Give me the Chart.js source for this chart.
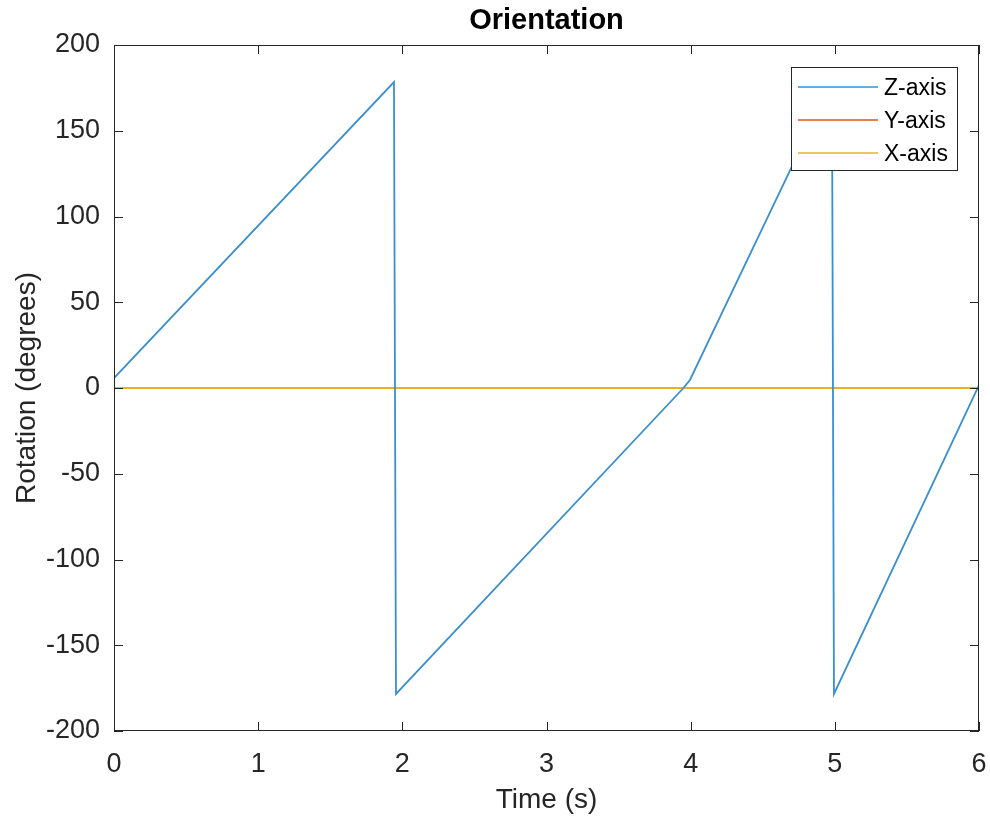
<!DOCTYPE html>
<html>
<head>
<meta charset="utf-8">
<script src="https://cdn.jsdelivr.net/npm/chart.js@4/dist/chart.umd.min.js"></script>
<style>
  html, body { margin: 0; padding: 0; background: #fff; }
  #wrap { width: 990px; height: 817px; }
</style>
</head>
<body>
<div id="wrap"><canvas id="orient"></canvas></div>
<script>
// values
const timeS = [0, 1.942, 1.956, 3.95, 3.995, 4.98, 4.994, 6]
const zAxis = [5.8, 178.4, -178.4, 0, 4.7, 178, -178.4, 1.7]
const yAxis = [0, 0, 0, 0, 0, 0, 0, 0]
const xAxis = [0, 0, 0, 0, 0, 0, 0, 0]
const seriesNames = ['Z-axis', 'Y-axis', 'X-axis']
const seriesColors = ['#3a8fd0', '#D95319', '#EDB120']
const chartTitle = 'Orientation'

const axisColor = '#262626'
const fontFam = '"Liberation Sans", Arial, sans-serif'

function pts(vals) {
    return timeS.map((t, i) => ({x: t, y: vals[i]}))
}

// box around the plot + ticks pointing inward (matlab style), title over the axes, legend inside
const boxTicks = {
    id: 'boxTicks',
    afterDatasetsDraw(chart) {
        const {ctx, chartArea: a, scales} = chart
        ctx.save()
        ctx.strokeStyle = axisColor
        ctx.lineWidth = 1
        ctx.strokeRect(a.left + 0.5, a.top + 0.5, a.right - a.left - 1, a.bottom - a.top - 1)
        const tl = 9
        ctx.beginPath()
        scales.x.ticks.forEach(t => {
            const px = Math.round(scales.x.getPixelForValue(t.value)) + 0.5
            ctx.moveTo(px, a.bottom); ctx.lineTo(px, a.bottom - tl)
            ctx.moveTo(px, a.top); ctx.lineTo(px, a.top + tl)
        })
        scales.y.ticks.forEach(t => {
            const py = Math.round(scales.y.getPixelForValue(t.value)) + 0.5
            ctx.moveTo(a.left, py); ctx.lineTo(a.left + tl, py)
            ctx.moveTo(a.right, py); ctx.lineTo(a.right - tl, py)
        })
        ctx.stroke()
        ctx.restore()
    },
    afterDraw(chart) {
        const {ctx, chartArea: a} = chart
        ctx.save()
        // title centred over the plot box
        ctx.fillStyle = '#000'
        ctx.font = 'bold 29px ' + fontFam
        ctx.textAlign = 'center'
        ctx.textBaseline = 'middle'
        ctx.fillText(chartTitle, (a.left + a.right) / 2, 21)

        // legend box in the upper right of the plot
        const bx = a.right - 188, by = a.top + 22, bw = 166, bh = 103
        ctx.fillStyle = '#fff'
        ctx.fillRect(bx, by, bw, bh)
        ctx.strokeStyle = axisColor
        ctx.lineWidth = 1
        ctx.strokeRect(bx + 0.5, by + 0.5, bw, bh)
        ctx.font = '23px ' + fontFam
        ctx.textAlign = 'left'
        chart.data.datasets.forEach((ds, i) => {
            const ly = by + 20 + i * 33
            ctx.strokeStyle = ds.borderColor
            ctx.lineWidth = 1.5
            ctx.beginPath()
            ctx.moveTo(bx + 7, ly); ctx.lineTo(bx + 87, ly)
            ctx.stroke()
            ctx.fillStyle = '#000'
            ctx.fillText(ds.label, bx + 93, ly + 2)
        })
        ctx.restore()
    }
}

new Chart(document.getElementById('orient').getContext('2d'), {
    type: 'line',
    data: {
        datasets: [
            {label: seriesNames[0], data: pts(zAxis), borderColor: seriesColors[0], order: 1},
            {label: seriesNames[1], data: pts(yAxis), borderColor: seriesColors[1], order: 3},
            {label: seriesNames[2], data: pts(xAxis), borderColor: seriesColors[2], order: 2},
        ]
    },
    options: {
        responsive: true,
        maintainAspectRatio: false,
        animation: false,
        layout: {padding: {left: 0, right: 11, top: 45, bottom: 0}},
        elements: {
            point: {radius: 0},
            line: {borderWidth: 1.8, tension: 0, fill: false}
        },
        plugins: {
            legend: {display: false},
            tooltip: {enabled: false},
            title: {display: false}
        },
        scales: {
            x: {
                type: 'linear',
                min: 0, max: 6,
                grid: {display: false, drawTicks: false},
                border: {display: false},
                ticks: {stepSize: 1, padding: 17, color: axisColor, font: {family: fontFam, size: 27}},
                title: {display: true, text: 'Time (s)', color: axisColor,
                    font: {family: fontFam, size: 28}, padding: {top: 0, bottom: 0}},
                afterFit(s) { s.height = 86; s.paddingLeft = 0; s.paddingRight = 0 }
            },
            y: {
                min: -200, max: 200,
                grid: {display: false, drawTicks: false},
                border: {display: false},
                ticks: {stepSize: 50, padding: 14, color: axisColor, font: {family: fontFam, size: 27}},
                title: {display: true, text: 'Rotation (degrees)', color: axisColor,
                    font: {family: fontFam, size: 28}, padding: {top: 10, bottom: 0}},
                afterFit(s) { s.width = 114; s.paddingTop = 0; s.paddingBottom = 0 }
            }
        }
    },
    plugins: [boxTicks]
})
</script>
</body>
</html>
